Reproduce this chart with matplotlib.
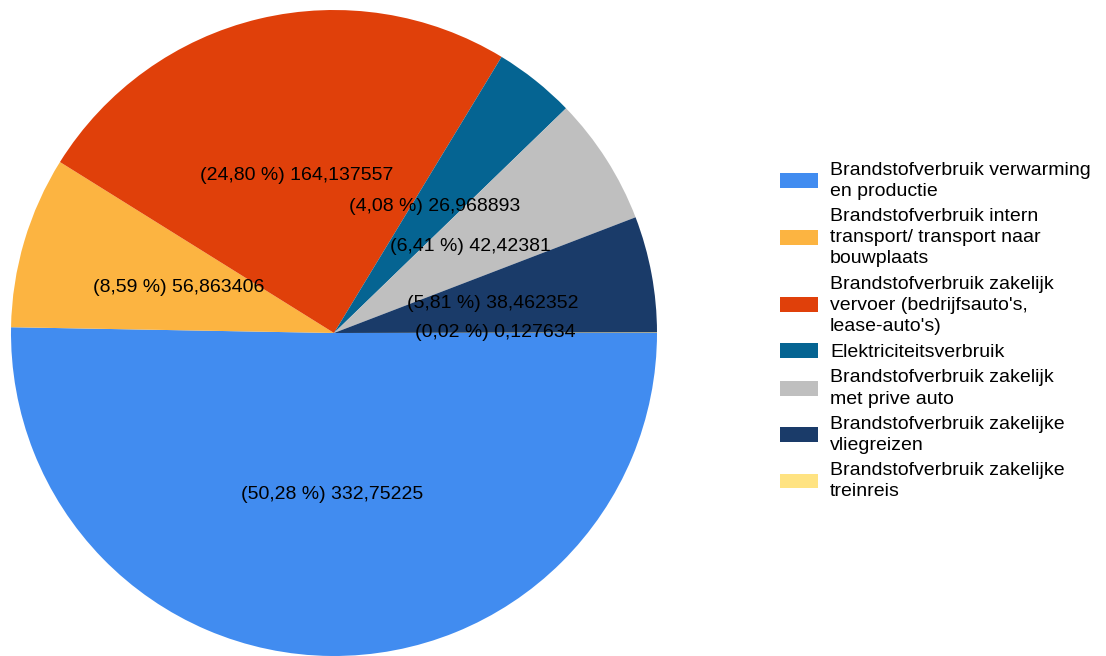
import matplotlib.pyplot as plt

# data
categories = [
    "Brandstofverbruik verwarming\nen productie",
    "Brandstofverbruik intern\ntransport/ transport naar\nbouwplaats",
    "Brandstofverbruik zakelijk\nvervoer (bedrijfsauto's,\nlease-auto's)",
    "Elektriciteitsverbruik",
    "Brandstofverbruik zakelijk\nmet prive auto",
    "Brandstofverbruik zakelijke\nvliegreizen",
    "Brandstofverbruik zakelijke\ntreinreis",
]
values = [332.75225, 56.863406, 164.137557, 26.968893, 42.42381, 38.462352, 0.127634]
colors = ["#418CF0", "#FCB441", "#E0400A", "#056492", "#BFBFBF", "#1A3B69", "#FFE382"]

plt.rcParams["font.family"] = ["Liberation Sans", "DejaVu Sans"]

W, H = 1106, 656
fig = plt.figure(figsize=(W / 100, H / 100), dpi=100)

# pie centre (334, 333) px from top-left, radius 323 px
cx, cy, r = 334, 333, 323
ax = fig.add_axes([(cx - r) / W, (H - cy - r) / H, 2 * r / W, 2 * r / H])

value_iter = iter(values)


def fmt(pct):
    # "(50,28 %) 332,75225" style, Dutch decimal comma
    v = next(value_iter)
    return "({} %) {}".format(f"{pct:.2f}".replace(".", ","), str(v).replace(".", ","))


wedges = ax.pie(
    values,
    colors=colors,
    startangle=0,
    counterclock=False,
    autopct=fmt,
    pctdistance=0.5,
    textprops={"fontsize": 14, "color": "black"},
    wedgeprops={"linewidth": 0},
)[0]
ax.set_xlim(-1, 1)
ax.set_ylim(-1, 1)
ax.set_aspect("equal")
ax.axis("off")

leg = fig.legend(
    wedges,
    categories,
    loc="center left",
    bbox_to_anchor=(762 / W, 1 - 331 / H),
    frameon=False,
    fontsize=14,
    handlelength=2.0,
    handleheight=0.8,
    handletextpad=0.6,
    labelspacing=0.43,
)
for t in leg.get_texts():
    t.set_linespacing(1.31)

fig.savefig("out.png", dpi=100)
